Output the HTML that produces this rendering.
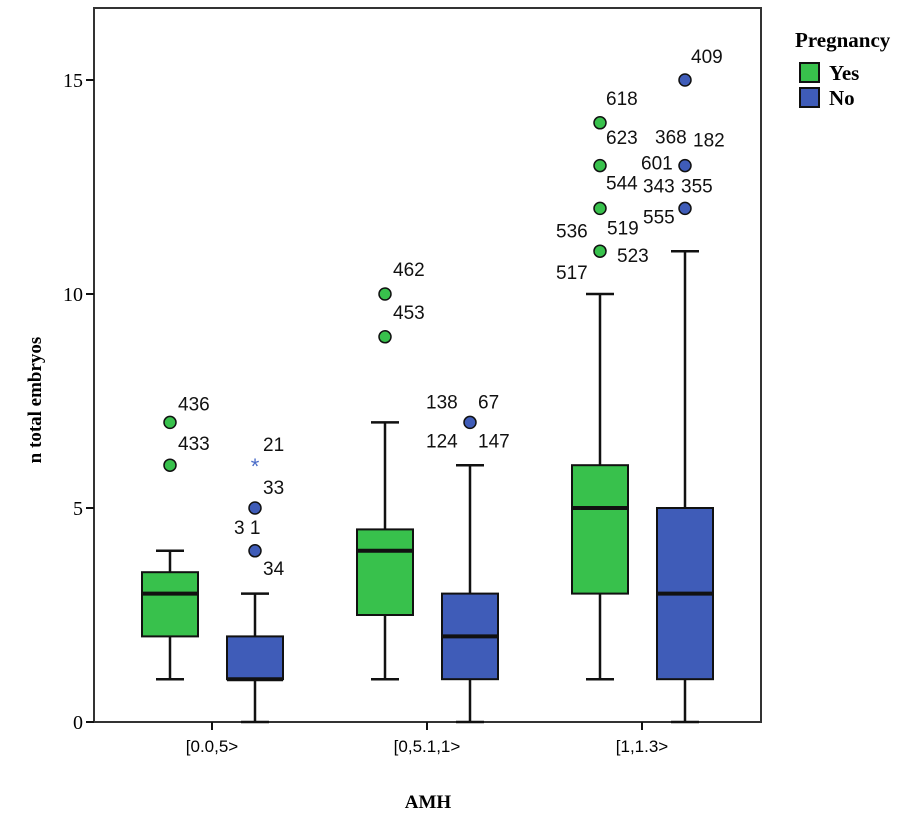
<!DOCTYPE html>
<html><head><meta charset="utf-8"><style>
body{margin:0;background:#fff;width:921px;height:819px;overflow:hidden}
</style></head><body>
<svg id="c" width="921" height="819"></svg>
<script>
const categories=["[0.0,5>","[0,5.1,1>","[1,1.3>"];
const seriesNames=["Yes","No"];
const yTicks=[0,5,10,15];
// [whiskLow, q1, median, q3, whiskHigh] per category for each series
const yesStats=[[1,2,3,3.5,4],[1,2.5,4,4.5,7],[1,3,5,6,10]];
const noStats=[[0,1,1,2,3],[0,1,2,3,6],[0,1,3,5,11]];
const yesOutliers=[[6,7],[9,10],[11,12,13,14]];
const noOutliers=[[4,5],[7],[12,13,15]];
const noExtremes=[[6],[],[]];
// outlier labels: [category, series, value, text, dx, dy]
const outlierLabels=[
[0,0,7,"436",8,-12],[0,0,6,"433",8,-15],
[0,1,6,"21",8,-14],[0,1,5,"33",8,-14],[0,1,4,"3  1",-21,-17],[0,1,4,"34",8,24],
[1,0,10,"462",8,-18],[1,0,9,"453",8,-18],
[1,1,7,"138",-44,-14],[1,1,7,"67",8,-14],[1,1,7,"124",-44,25],[1,1,7,"147",8,25],
[2,0,14,"618",6,-18],[2,0,14,"623",6,21],[2,0,13,"544",6,24],[2,0,12,"536",-44,29],[2,0,12,"519",7,26],[2,0,11,"523",17,11],[2,0,11,"517",-44,28],
[2,1,15,"409",6,-17],[2,1,13,"368",-30,-22],[2,1,13,"182",8,-19],[2,1,13,"601",-44,4],[2,1,12,"343",-42,-16],[2,1,12,"355",-4,-16],[2,1,12,"555",-42,15]
];
const svg=document.getElementById('c');const NS="http://www.w3.org/2000/svg";
function el(t,a,p){const e=document.createElementNS(NS,t);for(const k in a)e.setAttribute(k,a[k]);(p||svg).appendChild(e);return e;}
const L=94,R=761,T=8,B=722,y0=722,pxU=42.8;
const y=v=>y0-v*pxU;
const catX=i=>212+i*215;
const off=[-42,43],hw=28;
const colors=["#38c14c","#3f5cb8"];
const SANS='"Liberation Sans",sans-serif',SERIF='"Liberation Serif",serif';
el('rect',{x:L,y:T,width:R-L,height:B-T,fill:"none",stroke:"#333","stroke-width":2,});
yTicks.forEach(t=>{const g=el('g',{});
el('line',{x1:L-8,x2:L,y1:y(t),y2:y(t),stroke:"#111","stroke-width":2},g);
const tx=el('text',{x:L-11,y:y(t)+7,"text-anchor":"end","font-size":20,"font-family":SERIF},g);tx.textContent=t;});
categories.forEach((c,i)=>{const g=el('g',{});
el('line',{x1:catX(i),x2:catX(i),y1:B,y2:B+8,stroke:"#111","stroke-width":2},g);
const tx=el('text',{x:catX(i),y:B+30,"text-anchor":"middle","font-size":17,"font-family":SANS},g);tx.textContent=c;});
function box(s,i,cx,col,name){const g=el('g',{});
const st={stroke:"#111","stroke-width":2.5};
el('line',Object.assign({x1:cx,x2:cx,y1:y(s[0]),y2:y(s[4])},st),g);
el('line',Object.assign({x1:cx-14,x2:cx+14,y1:y(s[0]),y2:y(s[0])},st),g);
el('line',Object.assign({x1:cx-14,x2:cx+14,y1:y(s[4]),y2:y(s[4])},st),g);
el('rect',{x:cx-hw,y:y(s[3]),width:2*hw,height:y(s[1])-y(s[3]),fill:col,stroke:"#111","stroke-width":2},g);
el('line',{x1:cx-hw,x2:cx+hw,y1:y(s[2]),y2:y(s[2]),stroke:"#111","stroke-width":4},g);}
categories.forEach((c,i)=>{
box(yesStats[i],i,catX(i)+off[0],colors[0],'box-yes-'+i);
box(noStats[i],i,catX(i)+off[1],colors[1],'box-no-'+i);
yesOutliers[i].forEach(v=>{const e=el('circle',{cx:catX(i)+off[0],cy:y(v),r:6,fill:colors[0],stroke:"#111","stroke-width":1.5});});
noOutliers[i].forEach(v=>{const e=el('circle',{cx:catX(i)+off[1],cy:y(v),r:6,fill:colors[1],stroke:"#111","stroke-width":1.5});});
noExtremes[i].forEach(v=>{const e=el('text',{x:catX(i)+off[1],y:y(v)+9,"text-anchor":"middle","font-size":22,fill:"#4a6cc8","font-family":SANS});e.textContent="*";});
});
outlierLabels.forEach(l=>{const e=el('text',{x:catX(l[0])+off[l[1]]+l[4],y:y(l[2])+l[5],"font-size":19,fill:"#111","font-family":SANS});e.textContent=l[3];});
let t=el('text',{x:41,y:400,"font-size":19,"font-weight":"bold","font-family":SERIF,"text-anchor":"middle",transform:"rotate(-90 41 400)"});t.textContent="n total embryos";
t=el('text',{x:428,y:808,"font-size":19,"font-weight":"bold","font-family":SERIF,"text-anchor":"middle"});t.textContent="AMH";
const lg=el('g',{});
t=el('text',{x:795,y:47,"font-size":21,"font-weight":"bold","font-family":SERIF},lg);t.textContent="Pregnancy";
seriesNames.forEach((n,i)=>{const g=el('g',{},lg);
el('rect',{x:800,y:63+i*25,width:19,height:19,fill:colors[i],stroke:"#111","stroke-width":2},g);
const tx=el('text',{x:829,y:80+i*25,"font-size":21,"font-weight":"bold","font-family":SERIF},g);tx.textContent=n;});
</script></body></html>
